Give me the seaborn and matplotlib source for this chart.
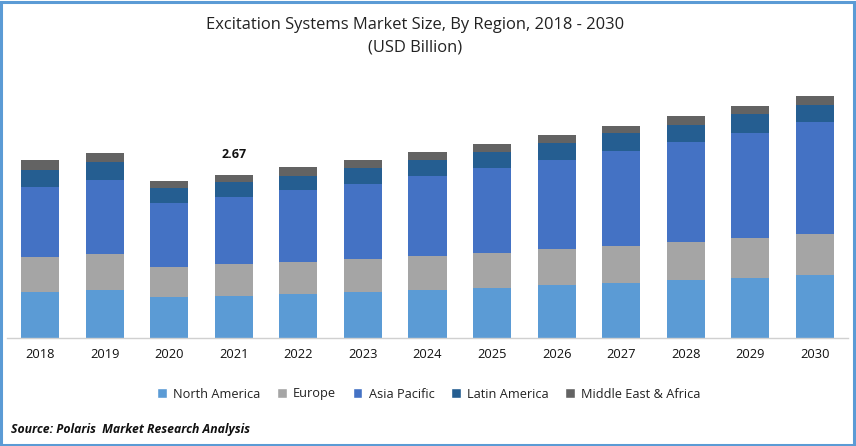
import matplotlib
matplotlib.use("Agg")
import matplotlib.pyplot as plt
from matplotlib.patches import Rectangle, Patch
import numpy as np
import pandas as pd
import seaborn as sns

years = ["2018","2019","2020","2021","2022","2023","2024","2025","2026","2027","2028","2029","2030"]
north_america = [0.75,0.79,0.67,0.69,0.72,0.75,0.79,0.82,0.87,0.90,0.95,0.98,1.03]
europe = [0.57,0.59,0.49,0.52,0.52,0.54,0.56,0.57,0.59,0.61,0.62,0.66,0.67]
asia_pacific = [1.16,1.21,1.05,1.10,1.18,1.23,1.31,1.39,1.46,1.56,1.64,1.72,1.83]
latin_america = [0.28,0.29,0.25,0.25,0.23,0.26,0.26,0.26,0.28,0.28,0.28,0.31,0.29]
middle_east = [0.15,0.15,0.11,0.11,0.15,0.13,0.13,0.13,0.13,0.13,0.15,0.13,0.15]
series = {"North America": north_america, "Europe": europe, "Asia Pacific": asia_pacific,
          "Latin America": latin_america, "Middle East & Africa": middle_east}
colors = ["#5B9BD5", "#A5A5A5", "#4472C4", "#255E91", "#636363"]

sns.set_theme(style="white")
plt.rcParams['font.family'] = ['Open Sans', 'DejaVu Sans']

W, H = 856, 446
fig = plt.figure(figsize=(W/100, H/100), dpi=100, facecolor="white")
ax = fig.add_axes([7/W, (H-338)/H, (848-7)/W, (338-80)/H])

bottom = np.zeros(len(years))
for (name, vals), c in zip(series.items(), colors):
    df = pd.DataFrame({"year": years, "value": vals})
    sns.barplot(data=df, x="year", y="value", color=c, saturation=1, width=0.59,
                bottom=bottom, ax=ax, errorbar=None, linewidth=0)
    bottom = bottom + np.array(vals)

# x-limits chosen so 2018 centre ~ px 40 and 2030 centre ~ px 815
step = (815-40)/12
ax.set_xlim((7-40)/step, (848-40)/step)
ax.set_ylim(0, 258/61.05)
ax.set_xlabel(""); ax.set_ylabel("")
ax.set_yticks([])
ax.tick_params(axis="x", length=0, labelsize=9.3, labelcolor="#111111", pad=7)
for s in ["top", "left", "right"]:
    ax.spines[s].set_visible(False)
ax.spines["bottom"].set_color("#D0D0D0")
ax.spines["bottom"].set_linewidth(1)

ax.text(3, bottom[3] + 0.33, "2.67", ha="center", va="center", fontsize=9,
        fontweight="bold", color="#111111")

fig.text(415/W, 1-25/H, "Excitation Systems Market Size, By Region, 2018 - 2030",
         ha="center", va="center", fontsize=11.9, color="#222222")
fig.text(415/W, 1-47/H, "(USD Billion)", ha="center", va="center", fontsize=11.9, color="#222222")

handles = [Patch(facecolor=c, label=n) for n, c in zip(series, colors)]
fig.legend(handles=handles, loc="center", bbox_to_anchor=(429/W, 1-394/H), ncol=5, frameon=False,
           fontsize=9.2, handlelength=0.75, handleheight=0.75, handletextpad=0.5,
           columnspacing=1.3, labelcolor="#222222")

fig.text(11/W, 1-429/H, "Source: Polaris  Market Research Analysis", ha="left", va="center",
         fontsize=8.8, fontweight="bold", fontstyle="italic", color="#111111")

fig.add_artist(Rectangle((1/W, 1/H), (W-3)/W, (H-3)/H, transform=fig.transFigure, fill=False,
                         edgecolor="#5B9BD5", linewidth=2.2))
fig.savefig("out.png", dpi=100, facecolor="white")
